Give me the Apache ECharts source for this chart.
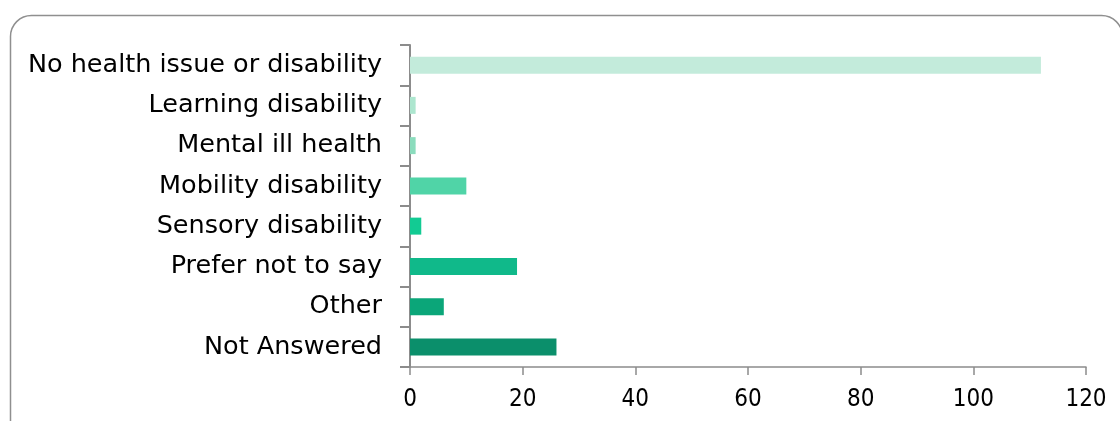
<!DOCTYPE html>
<html>
<head>
<meta charset="utf-8">
<script src="https://cdn.jsdelivr.net/npm/echarts@6/dist/echarts.min.js"></script>
<style>
  html, body { margin: 0; padding: 0; background: #fff; }
  #chart { width: 1120px; height: 421px; }
</style>
</head>
<body>
<div id="chart"></div>
<script>
// Responses by health/disability category, listed top to bottom
const categories = [
  'No health issue or disability',
  'Learning disability',
  'Mental ill health',
  'Mobility disability',
  'Sensory disability',
  'Prefer not to say',
  'Other',
  'Not Answered'
];
const counts = [112, 1, 1, 10, 2, 19, 6, 26];
const barColors = ['#c3ebdb', '#ade6cf', '#8bdcbd', '#50d4a7', '#12cb93', '#10b98a', '#0ba679', '#0b8f6b'];
const xTicks = { min: 0, max: 120, interval: 20 };

const chart = echarts.init(document.getElementById('chart'));

// category axis runs bottom-up in ECharts, so reverse for top-down reading
const cats = categories.slice().reverse();
const vals = counts.map((v, i) => ({ value: v, itemStyle: { color: barColors[i] } })).reverse();

chart.setOption({
  animation: false,
  textStyle: { fontFamily: 'DejaVu Sans' },
  graphic: [{
    type: 'rect',
    shape: { x: 10.5, y: 15.5, width: 1112, height: 430, r: 21 },
    style: { fill: 'none', stroke: '#8f8f8f', lineWidth: 1.5 },
    silent: true
  }],
  grid: { left: 410, right: 34, top: 45, bottom: 54 },
  xAxis: {
    type: 'value',
    min: xTicks.min, max: xTicks.max, interval: xTicks.interval,
    axisLine: { show: true, lineStyle: { color: '#8c8c8c', width: 1.5 } },
    axisTick: { show: true, length: 8, lineStyle: { color: '#8c8c8c', width: 1.5 } },
    splitLine: { show: false },
    axisLabel: {
      color: '#000', fontSize: 24, margin: 21,
      fontFamily: "'Liberation Sans Narrow', 'DejaVu Sans Condensed', sans-serif"
    }
  },
  yAxis: {
    type: 'category',
    data: cats,
    axisLine: { show: true, lineStyle: { color: '#8c8c8c', width: 2 } },
    axisTick: { show: true, length: 10, lineStyle: { color: '#8c8c8c', width: 2 } },
    axisLabel: { color: '#000', fontSize: 25.5, margin: 28, fontFamily: 'DejaVu Sans' }
  },
  series: [{
    type: 'bar',
    data: vals,
    barWidth: 17
  }]
});
</script>
</body>
</html>
